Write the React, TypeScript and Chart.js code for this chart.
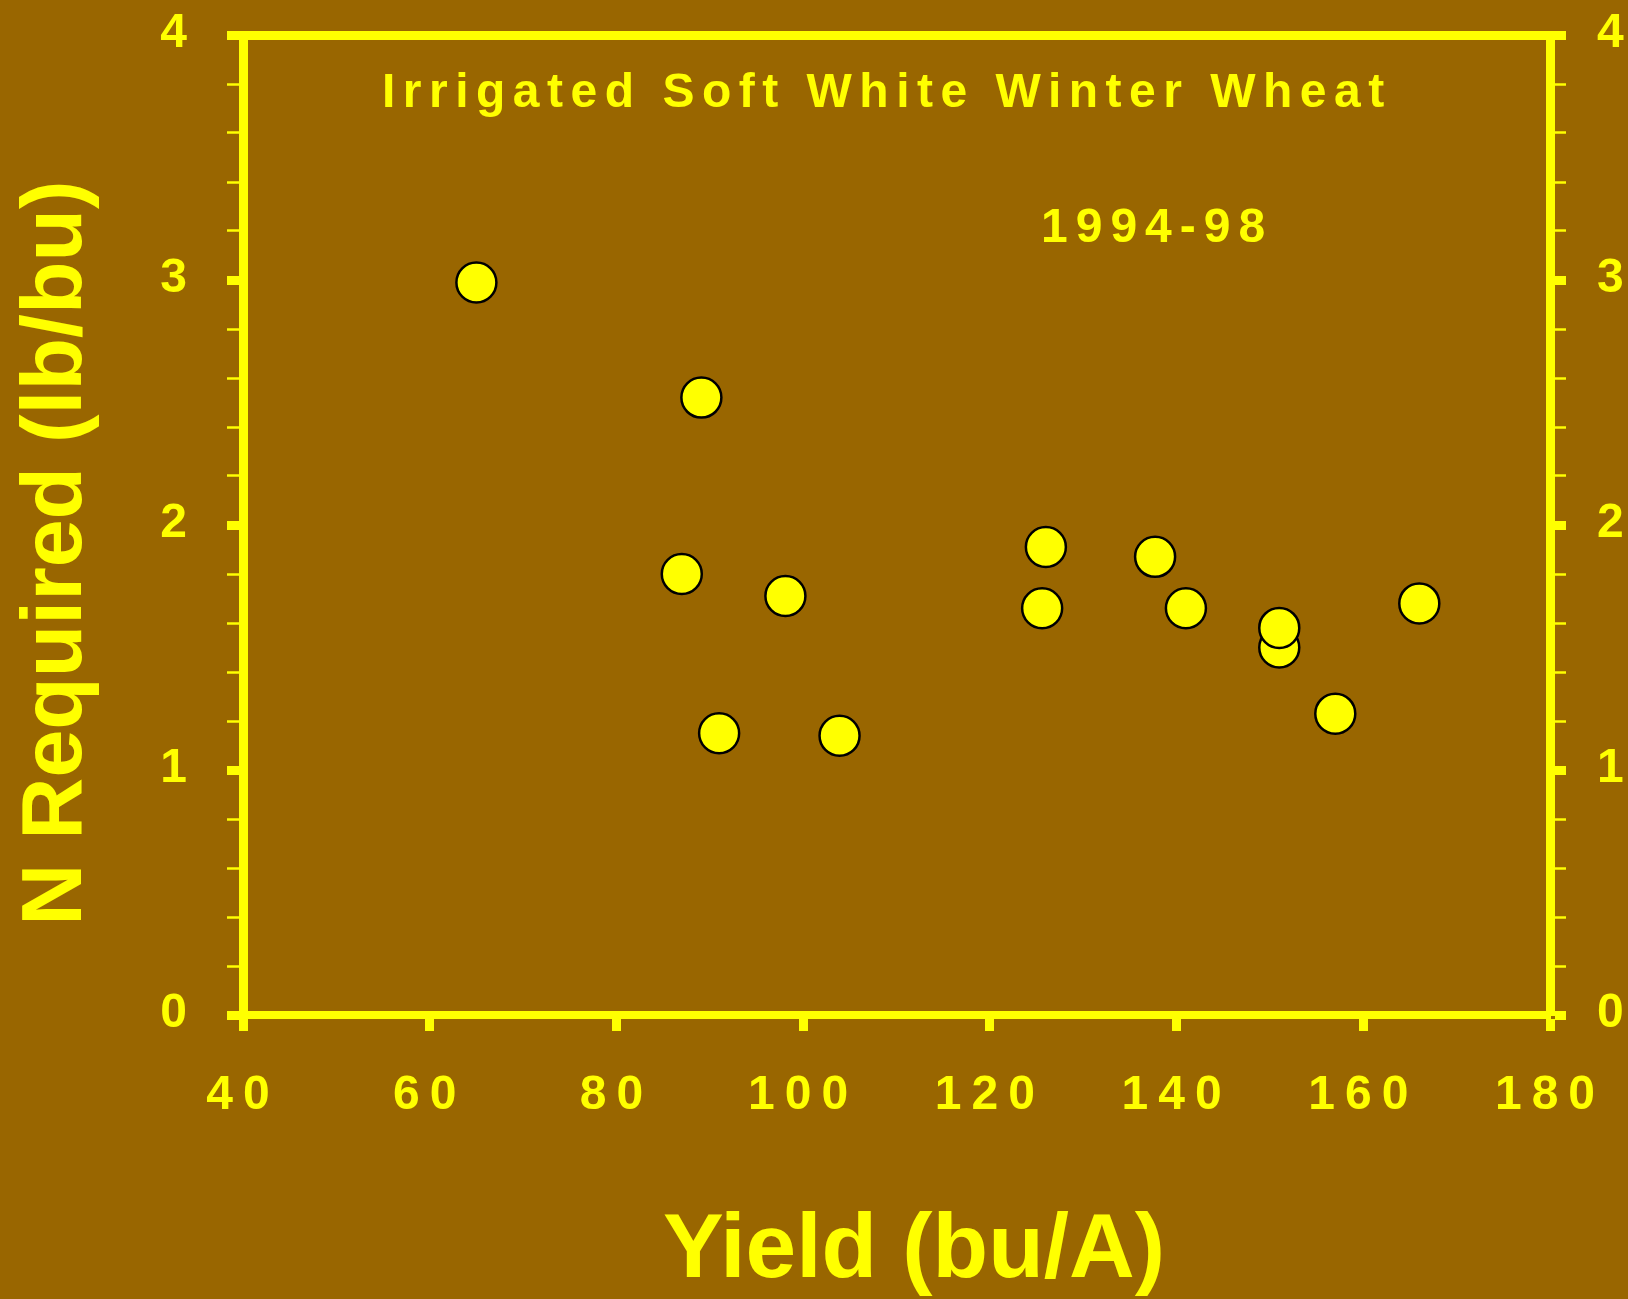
import React, { useEffect, useRef } from "react";
import { Chart, registerables } from "chart.js";

Chart.register(...registerables);

// ---- data ----
const yieldBuA = [65.0, 89.1, 87.0, 98.1, 91.0, 103.9, 126.0, 125.6, 137.7, 141.0, 151.0, 151.0, 157.0, 166.0];
const nRequiredLbBu = [2.99, 2.52, 1.8, 1.71, 1.15, 1.14, 1.91, 1.66, 1.87, 1.66, 1.5, 1.58, 1.23, 1.68];

const xTickValues = [40, 60, 80, 100, 120, 140, 160, 180];
const yTickValues = [0, 1, 2, 3, 4];
const yMinorStep = 0.2;

const chartTitle = "Irrigated Soft White Winter Wheat";
const chartSubtitle = "1994-98";
const xAxisTitle = "Yield (bu/A)";
const yAxisTitle = "N Required (lb/bu)";

// ---- styles ----
const BG = "#996600";
const FG = "#ffff00";
const FONT = "'Liberation Sans', Arial, sans-serif";
const W = 1628;
const H = 1299;

const isMajor = (v: number) => Math.abs(v - Math.round(v)) < 1e-6;

const textPlugin = {
  id: "textDecor",
  beforeDraw(chart: any) {
    const ctx = chart.ctx;
    ctx.save();
    ctx.fillStyle = BG;
    ctx.fillRect(0, 0, chart.width, chart.height);
    ctx.restore();
    ctx.letterSpacing = "10px";
  },
  afterDraw(chart: any) {
    const ctx = chart.ctx;
    ctx.save();
    ctx.fillStyle = FG;
    ctx.textBaseline = "alphabetic";

    // in-plot title
    ctx.font = `bold 48px ${FONT}`;
    ctx.letterSpacing = "7.5px";
    ctx.textAlign = "left";
    ctx.fillText(chartTitle, 382, 107);

    ctx.letterSpacing = "8px";
    ctx.fillText(chartSubtitle, 1041, 242);

    // x axis title
    ctx.letterSpacing = "0px";
    ctx.font = `bold 91px ${FONT}`;
    ctx.textAlign = "center";
    ctx.fillText(xAxisTitle, 914, 1277);

    // y axis title
    ctx.font = `bold 86px ${FONT}`;
    ctx.translate(81, 553);
    ctx.rotate(-Math.PI / 2);
    ctx.fillText(yAxisTitle, 0, 0);
    ctx.restore();
    ctx.letterSpacing = "0px";
  },
};

const tickFont = { family: FONT, size: 48, weight: "bold" as const };

const fixBox = (w: number | null, h: number | null) => (s: any) => {
  if (w !== null) s.width = w;
  if (h !== null) s.height = h;
  s.paddingTop = 0;
  s.paddingBottom = 0;
  s.paddingLeft = 0;
  s.paddingRight = 0;
};

export default function App() {
  const ref = useRef<HTMLCanvasElement | null>(null);

  useEffect(() => {
    if (!ref.current) return;
    const xMin = xTickValues[0];
    const xMax = xTickValues[xTickValues.length - 1];
    const xStep = xTickValues[1] - xTickValues[0];
    const yMin = yTickValues[0];
    const yMax = yTickValues[yTickValues.length - 1];

    const yTickCb = (v: any) => (isMajor(Number(v)) ? String(Math.round(Number(v))) : "");

    const chart = new Chart(ref.current, {
      type: "scatter",
      data: {
        datasets: [
          {
            label: chartTitle,
            data: yieldBuA.map((x, i) => ({ x, y: nRequiredLbBu[i] })),
            pointRadius: 20,
            pointHoverRadius: 20,
            pointBackgroundColor: FG,
            pointBorderColor: "#000000",
            pointBorderWidth: 2.5,
            xAxisID: "x",
            yAxisID: "y",
          },
        ],
      },
      plugins: [textPlugin],
      options: {
        responsive: false,
        animation: false,
        devicePixelRatio: 1,
        layout: { padding: 0 },
        plugins: {
          legend: { display: false },
          tooltip: { enabled: false },
          title: { display: false },
        },
        scales: {
          x: {
            type: "linear",
            position: "bottom",
            min: xMin,
            max: xMax,
            afterFit: fixBox(null, 284),
            ticks: {
              stepSize: xStep,
              color: FG,
              font: tickFont,
              padding: 36,
              maxRotation: 0,
              autoSkip: false,
              callback: (v: any) => String(v),
            },
            grid: {
              display: true,
              drawOnChartArea: false,
              drawTicks: true,
              tickLength: 16,
              tickWidth: 9,
              tickColor: FG,
              color: FG,
            },
            border: { display: true, color: FG, width: 8 },
          },
          x2: {
            type: "linear",
            position: "top",
            min: xMin,
            max: xMax,
            afterFit: fixBox(null, 35),
            ticks: { display: false, stepSize: xStep },
            grid: { display: true, drawOnChartArea: false, drawTicks: false, color: FG },
            border: { display: true, color: FG, width: 9 },
          },
          y: {
            type: "linear",
            position: "left",
            min: yMin,
            max: yMax,
            afterFit: fixBox(243, null),
            ticks: {
              stepSize: yMinorStep,
              color: FG,
              font: tickFont,
              padding: 30,
              labelOffset: -1,
              autoSkip: false,
              callback: yTickCb,
            },
            grid: {
              display: true,
              drawOnChartArea: false,
              drawTicks: true,
              tickLength: 16,
              tickWidth: (c: any) => (isMajor(c.tick.value) ? 9 : 2.5),
              tickColor: FG,
              color: FG,
            },
            border: { display: true, color: FG, width: 9 },
          },
          y2: {
            type: "linear",
            position: "right",
            min: yMin,
            max: yMax,
            afterFit: fixBox(78, null),
            ticks: {
              stepSize: yMinorStep,
              color: FG,
              font: tickFont,
              padding: 31,
              labelOffset: -1,
              autoSkip: false,
              callback: yTickCb,
            },
            grid: {
              display: true,
              drawOnChartArea: false,
              drawTicks: true,
              tickLength: 16,
              tickWidth: (c: any) => (isMajor(c.tick.value) ? 9 : 2.5),
              tickColor: FG,
              color: FG,
            },
            border: { display: true, color: FG, width: 9 },
          },
        },
      } as any,
    });
    return () => chart.destroy();
  }, []);

  return (
    <div
      style={{
        position: "fixed",
        left: 0,
        top: 0,
        width: W,
        height: H,
        background: BG,
        margin: 0,
        padding: 0,
        overflow: "hidden",
      }}
    >
      <canvas ref={ref} width={W} height={H} style={{ display: "block", width: W, height: H }} />
    </div>
  );
}
